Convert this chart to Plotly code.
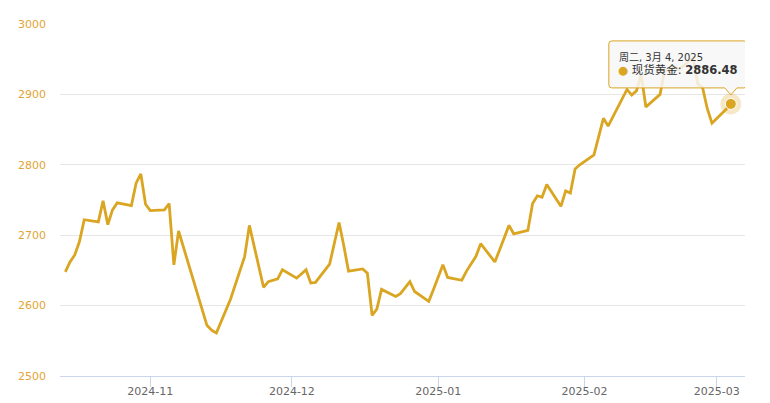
import plotly.graph_objects as go
import pandas as pd

series_name = "现货黄金"

dates = [
    "2024-10-14", "2024-10-15", "2024-10-16", "2024-10-17", "2024-10-18",
    "2024-10-21", "2024-10-22", "2024-10-23", "2024-10-24", "2024-10-25",
    "2024-10-28", "2024-10-29", "2024-10-30", "2024-10-31", "2024-11-01",
    "2024-11-04", "2024-11-05", "2024-11-06", "2024-11-07", "2024-11-08",
    "2024-11-11", "2024-11-12", "2024-11-13", "2024-11-14", "2024-11-15",
    "2024-11-18", "2024-11-19", "2024-11-20", "2024-11-21", "2024-11-22",
    "2024-11-25", "2024-11-26", "2024-11-27", "2024-11-28", "2024-11-29",
    "2024-12-02", "2024-12-03", "2024-12-04", "2024-12-05", "2024-12-06",
    "2024-12-09", "2024-12-10", "2024-12-11", "2024-12-12", "2024-12-13",
    "2024-12-16", "2024-12-17", "2024-12-18", "2024-12-19", "2024-12-20",
    "2024-12-23", "2024-12-24", "2024-12-26", "2024-12-27",
    "2024-12-30", "2024-12-31", "2025-01-02", "2025-01-03",
    "2025-01-06", "2025-01-07", "2025-01-08", "2025-01-09", "2025-01-10",
    "2025-01-13", "2025-01-14", "2025-01-15", "2025-01-16", "2025-01-17",
    "2025-01-20", "2025-01-21", "2025-01-22", "2025-01-23", "2025-01-24",
    "2025-01-27", "2025-01-28", "2025-01-29", "2025-01-30", "2025-01-31",
    "2025-02-03", "2025-02-04", "2025-02-05", "2025-02-06", "2025-02-07",
    "2025-02-10", "2025-02-11", "2025-02-12", "2025-02-13", "2025-02-14",
    "2025-02-17", "2025-02-18", "2025-02-19", "2025-02-20", "2025-02-21",
    "2025-02-24", "2025-02-25", "2025-02-26", "2025-02-27", "2025-02-28",
    "2025-03-03", "2025-03-04",
]

prices = [
    2648, 2662, 2672, 2691, 2722,
    2719, 2749, 2715, 2736, 2746,
    2742, 2774, 2787, 2744, 2735,
    2736, 2745, 2658, 2706, 2684,
    2617, 2595, 2572, 2565, 2561,
    2609, 2630, 2650, 2670, 2714,
    2626, 2634, 2636, 2638, 2651,
    2639, 2645, 2651, 2632, 2633,
    2659, 2690, 2718, 2685, 2649,
    2652, 2646, 2586, 2595, 2623,
    2613, 2617, 2634, 2620,
    2606, 2623, 2658, 2640,
    2636, 2649, 2660, 2670, 2688,
    2662, 2679, 2697, 2714, 2702,
    2707, 2745, 2756, 2754, 2772,
    2741, 2763, 2760, 2794, 2800,
    2814, 2840, 2866, 2855, 2868,
    2907, 2899, 2905, 2928, 2882,
    2900, 2935, 2933, 2940, 2935,
    2952, 2915, 2910, 2880, 2859,
    2879, 2886.48,
]

y_ticks = [2500, 2600, 2700, 2800, 2900, 3000]

GOLD = "#DAA520"
FONT = "DejaVu Sans, Noto Sans CJK SC, sans-serif"

fig = go.Figure()
fig.add_trace(go.Scatter(
    x=dates, y=prices, mode="lines", name=series_name,
    line=dict(color=GOLD, width=2.8), hoverinfo="skip",
))

# hovered point: halo + marker
last_x, last_y = dates[-1], prices[-1]
fig.add_trace(go.Scatter(
    x=[last_x], y=[last_y], mode="markers", hoverinfo="skip",
    marker=dict(size=21, color="rgba(218,165,32,0.25)", line=dict(width=0)),
))
fig.add_trace(go.Scatter(
    x=[last_x], y=[last_y], mode="markers", hoverinfo="skip",
    marker=dict(size=11, color=GOLD, line=dict(width=1, color="#ffffff")),
))

# tooltip callout (box + pointer) anchored at the hovered point, in pixels
L, R, B, T, r = -122, 16, 16, 63, 3
path = (f"M {L + r},{B} L -6,{B} L 0,9 L 6,{B} L {R - r},{B} "
        f"Q {R},{B} {R},{B + r} L {R},{T - r} Q {R},{T} {R - r},{T} "
        f"L {L + r},{T} Q {L},{T} {L},{T - r} L {L},{B + r} Q {L},{B} {L + r},{B} Z")
fig.add_shape(type="path", path=path, xref="x", yref="y",
              xsizemode="pixel", ysizemode="pixel",
              xanchor=last_x, yanchor=last_y,
              fillcolor="rgba(247,247,247,0.85)",
              line=dict(color=GOLD, width=1), layer="above")

d = pd.Timestamp(last_x)
wk = ["周一", "周二", "周三", "周四", "周五", "周六", "周日"][d.weekday()]
line1 = f"{wk}, {d.month}月 {d.day}, {d.year}"
line2 = (f"<span style='color:{GOLD}'>●</span> {series_name}: "
         f"<b>{last_y:.2f}</b>")

fig.add_annotation(x=last_x, y=last_y, xref="x", yref="y", text=line1,
                   showarrow=False, xanchor="left", yanchor="middle",
                   xshift=-114, yshift=46.5,
                   font=dict(family=FONT, size=10, color="#333333"))
fig.add_annotation(x=last_x, y=last_y, xref="x", yref="y", text=line2,
                   showarrow=False, xanchor="left", yanchor="middle",
                   xshift=-115, yshift=34,
                   font=dict(family=FONT, size=11.5, color="#333333"))

# page body has an 8px default margin, so the plot area is offset by 8px
fig.update_layout(
    width=770, height=403,
    margin=dict(l=52, r=33, t=16, b=35),
    paper_bgcolor="white", plot_bgcolor="white",
    showlegend=False,
    font=dict(family=FONT),
    hovermode=False,
)
fig.update_xaxes(
    type="date", automargin=False,
    range=["2024-10-12 21:00", "2025-03-07 00:00"],
    tick0="2024-11-01", dtick="M1", tickformat="%Y-%m",
    showgrid=False, zeroline=False,
    showline=True, linecolor="#ccd6eb", linewidth=1,
    ticks="outside", ticklen=10, tickcolor="#ccd6eb", tickwidth=1,
    ticklabelstandoff=-5,
    tickfont=dict(family=FONT, size=11, color="#666666"),
)
fig.update_yaxes(
    automargin=False,
    range=[2500, 3000], tickvals=y_ticks,
    showgrid=True, gridcolor="#e6e6e6", gridwidth=1,
    zeroline=False, showline=False, ticks="",
    ticklabelstandoff=13,
    tickfont=dict(family=FONT, size=11, color="#E0A535"),
)

fig.write_html("out.html")
